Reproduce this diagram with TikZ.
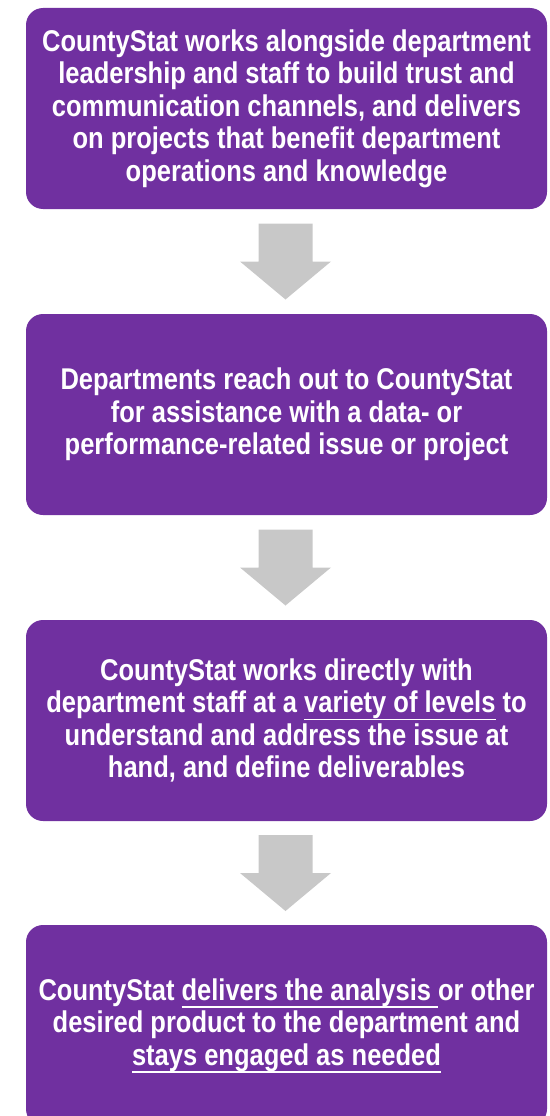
\documentclass[tikz,border=0pt]{standalone}
\usepackage{fontspec}
\setmainfont{Liberation Sans}[FakeStretch=0.85]
\usetikzlibrary{calc}
\definecolor{boxpurple}{HTML}{7030A0}
\definecolor{arrowgray}{RGB}{200,200,200}
\newcommand\myul[1]{\leavevmode\setbox0\hbox{#1}\rlap{\rule[-7.5pt]{\wd0}{1.7pt}}\box0\relax}
\begin{document}
\begin{tikzpicture}[x=1pt,y=-1pt,
  stagebox/.style={fill=boxpurple, rounded corners=17pt, minimum width=521pt,
    minimum height=201pt, inner sep=0pt, text=white, align=center,
    font=\fontsize{30}{32.5}\selectfont\bfseries},
  arrowfill/.style={fill=arrowgray}]
\useasboundingbox (0,0) rectangle (549,1116);
\clip (0,0) rectangle (549,1116);
\node[stagebox] (b1) at (286.5,108.5) {CountyStat works alongside department\\
leadership and staff to build trust and\\
communication channels, and delivers\\
on projects that benefit department\\
operations and knowledge};
\node[stagebox] (b2) at (286.5,414.5) {Departments reach out to CountyStat\\
for assistance with a data- or\\
performance-related issue or project};
\node[stagebox] (b3) at (286.5,720.5) {CountyStat works directly with\\
department staff at a \myul{variety of levels} to\\
understand and address the issue at\\
hand, and define deliverables};
\node[stagebox] (b4) at (286.5,1025.5) {CountyStat \myul{delivers the analysis\ }or other\\
desired product to the department and\\
\myul{stays engaged as needed}};
\foreach \a/\b/\m in {b1/b2/m1, b2/b3/m2, b3/b4/m3}{
  \coordinate (\m) at ($(\a.south)!0.5!(\b.north)+(-1,0)$);
  \fill[arrowfill] ($(\m)+(-27,-38)$) -- ($(\m)+(27,-38)$) -- ($(\m)+(27,0)$)
    -- ($(\m)+(45.5,0)$) -- ($(\m)+(0,38)$) -- ($(\m)+(-45.5,0)$)
    -- ($(\m)+(-27,0)$) -- cycle;
}
\end{tikzpicture}
\end{document}
